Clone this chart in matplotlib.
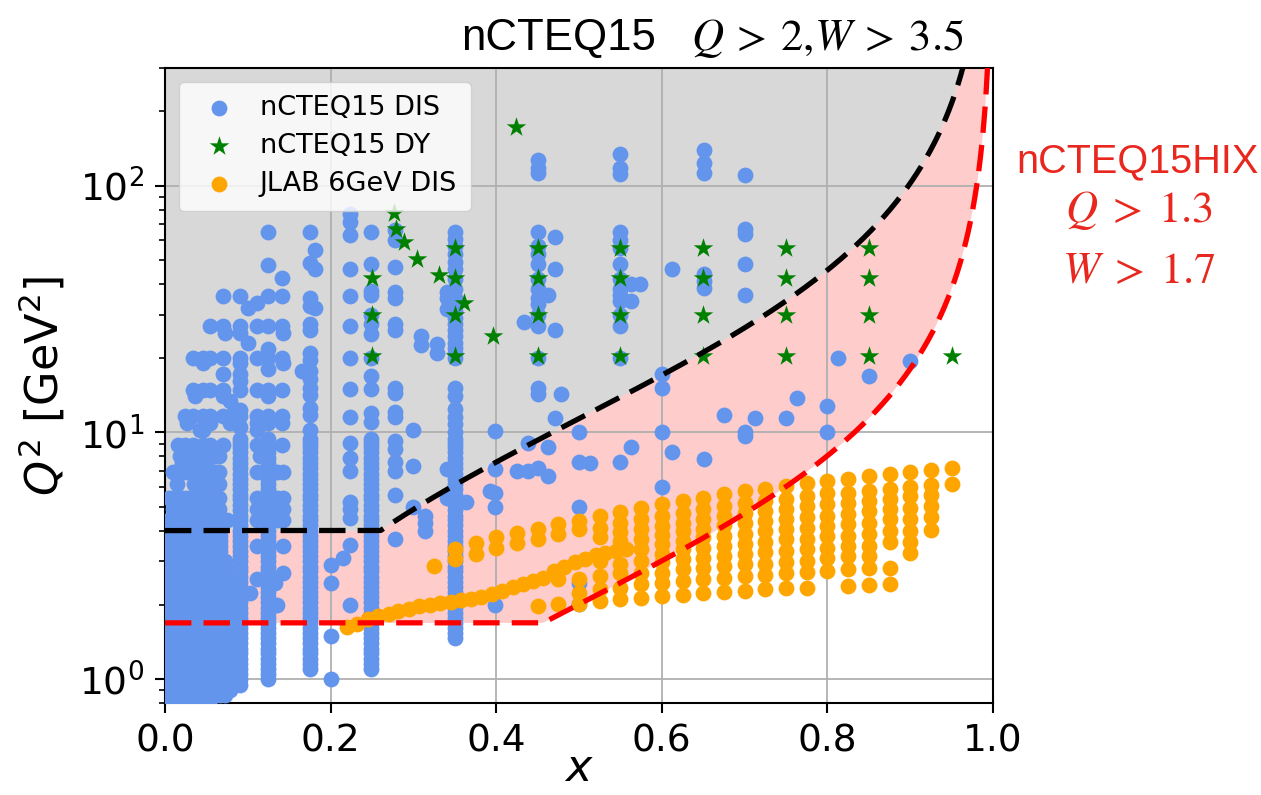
import numpy as np
import matplotlib.pyplot as plt

#%% kinematic cuts (Q2 > Q2min and W2 > W2min), proton mass squared
M2 = 0.938**2
Q2_OLD, W2_OLD = 2.0**2, 3.5**2
Q2_NEW, W2_NEW = 1.3**2, 1.7**2

#%% nCTEQ15 DIS
# dense (almost solid) columns: x, lowest and highest Q2 of the column
ladder_q2 = [0.78, 0.82, 0.86, 0.9, 0.95, 1.0, 1.05, 1.1, 1.15, 1.21, 1.27, 1.33, 1.4, 1.47,
             1.54, 1.61, 1.69, 1.77, 1.86, 1.95, 2.05, 2.15, 2.25, 2.36, 2.48, 2.6, 2.73, 2.86,
             3.0, 3.15, 3.3, 3.46, 3.63, 3.8, 4.0, 4.2, 4.4, 4.6, 4.85, 5.1, 5.35, 5.6, 5.9,
             6.2, 6.5, 6.8, 7.15, 7.5, 7.9, 8.3, 8.7, 9.1, 9.4]
dense_col_x = [0.004, 0.009, 0.014, 0.019, 0.024, 0.029, 0.034, 0.039, 0.044, 0.049, 0.054,
               0.059, 0.066, 0.073, 0.079, 0.0906, 0.1248, 0.1747, 0.249, 0.350]
dense_col_lo = [0.78, 0.78, 0.78, 0.78, 0.78, 0.78, 0.78, 0.78, 0.8, 0.8, 0.82,
                0.84, 0.86, 0.86, 0.88, 0.95, 0.97, 1.06, 1.1, 1.45]
dense_col_hi = [4.0, 4.0, 4.0, 4.0, 4.0, 4.0, 4.0, 4.0, 4.0, 4.0, 4.0,
                4.0, 4.0, 3.0, 2.4, 9.4, 9.4, 9.4, 9.4, 9.4]

# rows of equal Q2 at small x
dis_row_q2 = [4.4, 4.9, 5.4, 6.2, 6.9, 7.5, 8.0, 8.9, 10.2, 10.9, 11.6, 13.4, 14.0, 14.9,
              17.2, 19.1, 20.1, 23.1, 25.3, 26.9, 32.0, 33.5, 35.6, 42.3]
dis_row_x = [
    [0.005, 0.01, 0.015, 0.02, 0.025, 0.03, 0.035, 0.04, 0.045, 0.05, 0.055, 0.06, 0.065, 0.075, 0.111, 0.135, 0.143],
    [0.01, 0.02, 0.025, 0.03, 0.035, 0.04, 0.045, 0.05, 0.055, 0.06, 0.065, 0.111, 0.135, 0.143],
    [0.005, 0.01, 0.015, 0.02, 0.025, 0.03, 0.035, 0.04, 0.045, 0.05, 0.055, 0.06, 0.065, 0.111, 0.135, 0.143],
    [0.015, 0.035, 0.04, 0.045, 0.05, 0.055, 0.06, 0.065],
    [0.01, 0.015, 0.02, 0.025, 0.03, 0.045, 0.05, 0.055, 0.06, 0.065, 0.111, 0.135, 0.143],
    [0.02, 0.03, 0.04, 0.05],
    [0.018, 0.025, 0.03, 0.035, 0.04, 0.045, 0.05, 0.055, 0.06, 0.065, 0.115],
    [0.0161, 0.0242, 0.0342, 0.0463, 0.0543, 0.0705, 0.1107, 0.141],
    [0.0423, 0.0463, 0.1107],
    [0.0261, 0.0543, 0.0785, 0.1107, 0.141],
    [0.0242, 0.0342, 0.0463, 0.0543, 0.0705, 0.0785, 0.1107, 0.141],
    [0.0785],
    [0.036, 0.0705],
    [0.0342, 0.0463, 0.0543, 0.0705, 0.1107, 0.141],
    [0.0705],
    [0.0463, 0.143],
    [0.0342, 0.0463, 0.0543, 0.0705, 0.1107, 0.141],
    [0.1006],
    [0.072, 0.143],
    [0.0543, 0.0705, 0.1107, 0.141],
    [0.1006],
    [0.1107],
    [0.0705, 0.141],
    [0.141],
]

# single points, grouped by x
dis_col_x = [0.0906, 0.1248, 0.1747, 0.181, 0.165, 0.2, 0.2146, 0.2234, 0.249, 0.2778,
             0.30, 0.309, 0.314, 0.328, 0.34, 0.35, 0.364, 0.392, 0.399, 0.425, 0.433,
             0.439, 0.451, 0.462, 0.471, 0.478, 0.50, 0.513, 0.55, 0.563, 0.574, 0.60,
             0.612, 0.651, 0.675, 0.70, 0.713, 0.75, 0.763, 0.80, 0.813, 0.85, 0.90,
             0.111, 0.1027, 0.143, 0.133, 0.135]
dis_col_q2 = [
    [10.5, 11.6, 12.3, 14.9, 16.1, 17.2, 19.1, 20.1, 25.3, 26.9, 35.6],
    [10.9, 11.6, 14.0, 14.9, 18.0, 20.1, 21.7, 26.9, 35.6, 47.9, 64.7],
    [10.2, 11.8, 12.6, 14.2, 15.2, 16.5, 17.8, 19.7, 21.0, 26.0, 27.5, 32.5, 35.0, 48.5, 65.0],
    [55.0, 46.0, 32.0],
    [17.8],
    [2.9, 2.46, 1.5, 1.0],
    [3.11],
    [77, 71, 63, 46, 35.6, 27, 20, 15, 11.5, 9.1, 7.9, 7.0, 5.2, 4.9, 4.5, 3.5, 2.0],
    [11.0, 12.0, 15.0, 17.0, 20.0, 25.0, 27.6, 30.0, 36.0, 37.5, 48.0, 65.0],
    [66, 60, 47, 37, 35, 27.6, 26, 15.2, 14.5, 12.1, 11.5, 9.2, 8.6, 7.6, 7.0, 5.6, 3.7],
    [10.2, 7.3, 5.0],
    [24.5, 22.7],
    [4.6, 4.3, 4.0],
    [22.8, 21.0],
    [37, 35, 31.5, 7.1, 5.4],
    [65, 61, 57, 53, 49, 46, 42, 38, 35, 33, 31, 29, 27.6, 26, 24.5, 23, 22, 21, 20,
     15.2, 14, 12.4, 11.5, 10.8, 10],
    [5.2],
    [5.8],
    [10.1, 7.1, 5.7, 5.0, 2.0],
    [7.0],
    [28],
    [9.1, 7.0],
    [127, 118, 113, 65, 57, 53, 48, 42, 38, 35, 33, 30, 27, 20, 15.2, 14.3, 7.2],
    [36, 8.7, 6.65],
    [62, 46, 26, 11.4],
    [14.3],
    [10, 7.6, 5.0, 2.46, 2.01],
    [7.5],
    [134, 118, 112, 65, 60, 56, 48, 42, 38, 36, 34, 30, 27, 20, 7.6],
    [40, 34, 8.7],
    [40],
    [17.2, 15.2, 10, 6.0],
    [46, 8.3],
    [140, 124, 113, 44, 41, 38.6, 7.8],
    [11.8],
    [110, 67, 64, 48, 36, 10, 9.7],
    [11.4],
    [11.4],
    [13.8],
    [12.8, 10],
    [20.1],
    [17],
    [19.5],
    [3.46, 2.54],
    [2.24],
    [3.46, 2.7],
    [2.45],
    [2.0],
]

#%% nCTEQ15 DY
dy_x = [0.424, 0.276, 0.279, 0.289, 0.304, 0.331, 0.361, 0.396,
        0.25, 0.25, 0.25,
        0.35, 0.35, 0.35, 0.35, 0.45, 0.45, 0.45, 0.45, 0.55, 0.55, 0.55, 0.55,
        0.65, 0.65, 0.65, 0.65, 0.75, 0.75, 0.75, 0.75, 0.85, 0.85, 0.85, 0.85, 0.95]
dy_q2 = [173, 77.5, 67, 59, 50.6, 43.6, 33.5, 24.5,
         42.3, 30.0, 20.4,
         56, 42.3, 30.0, 20.4, 56, 42.3, 30.0, 20.4, 56, 42.3, 30.0, 20.4,
         56, 42.3, 30.0, 20.4, 56, 42.3, 30.0, 20.4, 56, 42.3, 30.0, 20.4, 20.4]

#%% JLAB 6GeV DIS
jlab_col_x = [0.325, 0.35, 0.375, 0.40, 0.425, 0.45, 0.475, 0.50, 0.525, 0.55, 0.575, 0.60,
              0.625, 0.65, 0.675, 0.70, 0.725, 0.75, 0.775, 0.80, 0.825, 0.85, 0.875, 0.90,
              0.925, 0.95]
jlab_col_q2 = [
    [2.87],
    [3.36, 3.06],
    [3.55, 3.21],
    [3.75, 3.41],
    [3.90, 3.55],
    [4.05, 3.69, 1.98],
    [4.24, 3.86, 2.54, 2.01],
    [4.37, 4.05, 2.54, 2.24, 2.01],
    [4.58, 4.11, 3.75, 3.01, 2.62, 2.31, 2.07],
    [4.76, 4.31, 3.93, 3.63, 2.92, 2.70, 2.35, 2.11],
    [4.95, 4.44, 4.05, 3.69, 3.36, 3.01, 2.70, 2.42, 2.14],
    [5.11, 4.58, 4.18, 3.83, 3.52, 3.21, 2.97, 2.70, 2.46, 2.17],
    [5.27, 4.73, 4.31, 3.98, 3.63, 3.36, 3.06, 2.79, 2.50, 2.19],
    [5.44, 4.88, 4.44, 4.05, 3.75, 3.41, 3.11, 2.83, 2.54, 2.23],
    [5.61, 5.03, 4.58, 4.20, 3.80, 3.47, 3.16, 2.87, 2.58, 2.26],
    [5.78, 5.19, 4.73, 4.28, 3.86, 3.52, 3.21, 2.92, 2.62, 2.28],
    [5.92, 5.27, 4.80, 4.37, 3.98, 3.58, 3.26, 2.92, 2.64, 2.31],
    [6.07, 5.39, 4.91, 4.44, 4.05, 3.69, 3.31, 2.97, 2.69, 2.33],
    [6.22, 5.52, 5.03, 4.52, 4.11, 3.71, 3.36, 3.01, 2.72, 2.35],
    [6.35, 5.70, 5.11, 4.58, 4.18, 3.80, 3.41, 3.11, 2.75],
    [6.50, 5.70, 5.19, 4.66, 4.24, 3.80, 3.47, 3.16, 2.79, 2.39],
    [6.65, 5.78, 5.27, 4.80, 4.31, 3.86, 3.47, 3.16, 2.83, 2.40],
    [6.76, 5.92, 5.35, 4.88, 4.44, 3.98, 3.58, 2.83, 2.42],
    [6.91, 6.03, 5.52, 4.95, 4.44, 3.98, 3.58, 3.24],
    [7.04, 6.10, 5.56, 5.03, 4.52, 4.02],
    [7.19, 6.16],
]
# the low-Q2 band of JLAB points
jlab_band_x = [0.22, 0.232, 0.245, 0.257, 0.27, 0.282, 0.295, 0.307, 0.32, 0.332, 0.345,
               0.357, 0.37, 0.382, 0.395, 0.407, 0.42, 0.432, 0.445, 0.457, 0.47, 0.482,
               0.495, 0.507, 0.52, 0.532, 0.545, 0.557]
jlab_band_q2 = [1.62, 1.68, 1.75, 1.80, 1.84, 1.88, 1.93, 1.97, 2.00, 2.03, 2.06,
                2.09, 2.12, 2.15, 2.21, 2.28, 2.36, 2.43, 2.49, 2.58, 2.75, 2.85,
                2.98, 3.08, 3.17, 3.24, 3.32, 3.38]

#%% flatten
dis_x, dis_q2 = [], []
for x, lo, hi in zip(dense_col_x, dense_col_lo, dense_col_hi):
    for q in ladder_q2:
        if lo <= q <= hi:
            dis_x.append(x)
            dis_q2.append(q)
for q, xs in zip(dis_row_q2, dis_row_x):
    dis_x += xs
    dis_q2 += [q] * len(xs)
for x, qs in zip(dis_col_x, dis_col_q2):
    dis_x += [x] * len(qs)
    dis_q2 += qs

jlab_x = list(jlab_band_x)
jlab_q2 = list(jlab_band_q2)
for x, qs in zip(jlab_col_x, jlab_col_q2):
    jlab_x += [x] * len(qs)
    jlab_q2 += qs

#%% cut curves
xc = np.linspace(0.0, 0.9995, 4000)
cut_old = np.maximum(Q2_OLD, (W2_OLD - M2) * xc / (1 - xc))
cut_new = np.maximum(Q2_NEW, (W2_NEW - M2) * xc / (1 - xc))

#%% plot
fig = plt.figure(figsize=(12.61, 7.95), dpi=100)
ax = fig.add_axes([165/1261, 1 - 703/795, 828/1261, 635/795])

ax.fill_between(xc, cut_old, 1e4, color="gray", alpha=0.3, lw=0, zorder=1)
ax.fill_between(xc, cut_new, cut_old, color="red", alpha=0.2, lw=0, zorder=1)

ax.scatter(dis_x, dis_q2, s=130, color="cornflowerblue", lw=0, zorder=3, label="nCTEQ15 DIS")
ax.scatter(dy_x, dy_q2, s=220, marker="*", color="green", lw=0, zorder=3, label="nCTEQ15 DY")
ax.scatter(jlab_x, jlab_q2, s=130, color="orange", lw=0, zorder=3, label="JLAB 6GeV DIS")

ax.plot(xc, cut_old, color="black", lw=3.8, dashes=(5, 2.3), zorder=4)
ax.plot(xc, cut_new, color="red", lw=3.8, dashes=(5, 2.3), zorder=4)

ax.set_yscale("log")
ax.set_xlim(0, 1)
ax.set_ylim(0.8, 300)
ax.set_axisbelow("line")
ax.grid(True, which="major", color="#b0b0b0", lw=1.3)
ax.tick_params(which="major", labelsize=27, length=7, width=1.5, pad=8)
ax.tick_params(which="minor", length=4, width=1.2)
for sp in ax.spines.values():
    sp.set_linewidth(1.5)
ax.set_xlabel("$x$", fontsize=32, labelpad=-9)
ax.set_ylabel("$Q^2$ [GeV$^2$]", fontsize=32, labelpad=8)

leg = ax.legend(loc="upper left", fontsize=19.5, scatterpoints=1, handletextpad=0.5,
                borderpad=0.5, labelspacing=0.45)

# titles / annotations
fig.text(461/1261, 1 - 50/795, "nCTEQ15", fontsize=31.5, family="Liberation Sans",
         ha="left", va="baseline")
fig.text(691/1261, 1 - 50/795, r"$Q\:>\:2{,}W\:>\:3.5$", fontsize=32, math_fontfamily="stix",
         ha="left", va="baseline")
red_txt = "#e8281e"
fig.text(1016/1261, 1 - 172/795, "nCTEQ15HIX", fontsize=28.5, family="Liberation Sans",
         color=red_txt, ha="left", va="baseline")
fig.text(1139/1261, 1 - 222/795, r"$Q\;>\;1.3$", fontsize=32, math_fontfamily="stix",
         color=red_txt, ha="center", va="baseline")
fig.text(1139/1261, 1 - 283/795, r"$W\;>\;1.7$", fontsize=32, math_fontfamily="stix",
         color=red_txt, ha="center", va="baseline")

fig.savefig("out.png", dpi=100)
